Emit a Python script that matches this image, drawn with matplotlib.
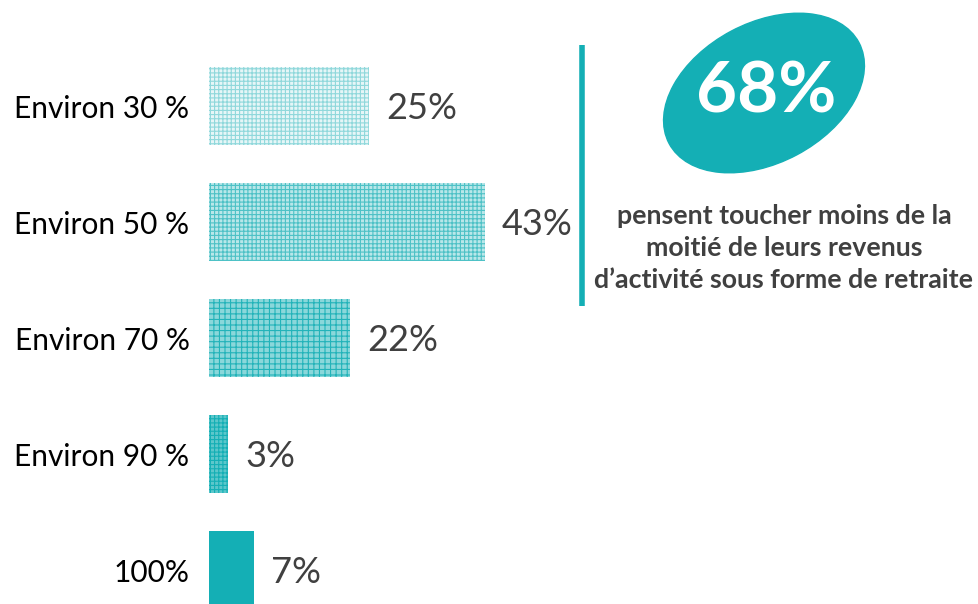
# retraite_bars.py

import matplotlib.pyplot as plt
from matplotlib.patches import Ellipse

# data
categories = ["Environ 30 %", "Environ 50 %", "Environ 70 %", "Environ 90 %", "100%"]
values = [25, 43, 22, 3, 7]
value_labels = ["25%", "43%", "22%", "3%", "7%"]
highlight = "68%"
highlight_text = "pensent toucher moins de la\nmoitié de leurs revenus\nd\u2019activité sous forme de retraite"

teal = "#14AFB5"
grey = "#404040"

# pattern per bar: (face, hatch colour, hatch)
styles = [
    ("#E6F6F7", "#8FD8DB", "++++"),
    ("#B9E7E9", "#4DC1C6", "++++"),
    ("#8AD7DA", "#22B3B9", "+++"),
    ("#5CC7CB", "#14AFB5", "++++"),
    (teal, teal, None),
]

plt.rcParams["font.family"] = ["Lato", "DejaVu Sans"]
plt.rcParams["hatch.linewidth"] = 0.8

fig = plt.figure(figsize=(9.79, 6.04), dpi=100)

# bar axes: left edge at x=209px, rows every 116px starting at y=106px
W, H = 979, 604
ax = fig.add_axes([209 / W, 0, (W - 209) / W, 1])
px_per_pct = 6.42
ax.set_xlim(0, (W - 209) / px_per_pct)
ax.set_ylim((H - 106) / 116, -106 / 116)

pos = range(len(values))
for i, (v, (fc, hc, hatch)) in enumerate(zip(values, styles)):
    ax.barh(i, v, height=0.68, color=fc, edgecolor=hc, hatch=hatch, linewidth=0)
    ax.annotate(value_labels[i], (v, i), xytext=(12, -2), textcoords="offset points",
                ha="left", va="center", fontsize=26, color=grey)

ax.set_yticks(list(pos), categories)
ax.tick_params(axis="y", length=0, pad=14, labelsize=21.5, labelcolor="black")
ax.set_xticks([])
for s in ax.spines.values():
    s.set_visible(False)
ax.patch.set_alpha(0)

# right-hand call-out, drawn in pixel space
ov = fig.add_axes([0, 0, 1, 1])
ov.set_xlim(0, W)
ov.set_ylim(H, 0)
ov.axis("off")
ov.patch.set_alpha(0)

ov.plot([582, 582], [45, 306], color=teal, lw=4, solid_capstyle="butt")
ov.add_patch(Ellipse((764, 93), 215, 140, angle=-28, color=teal))
ov.text(766, 92, highlight, ha="center", va="center", fontsize=51,
        fontweight="bold", color="white")
ov.text(784, 248, highlight_text, ha="center", va="center", fontsize=19.3,
        fontweight="bold", color=grey, linespacing=1.4)

fig.savefig("out.png", dpi=100)
